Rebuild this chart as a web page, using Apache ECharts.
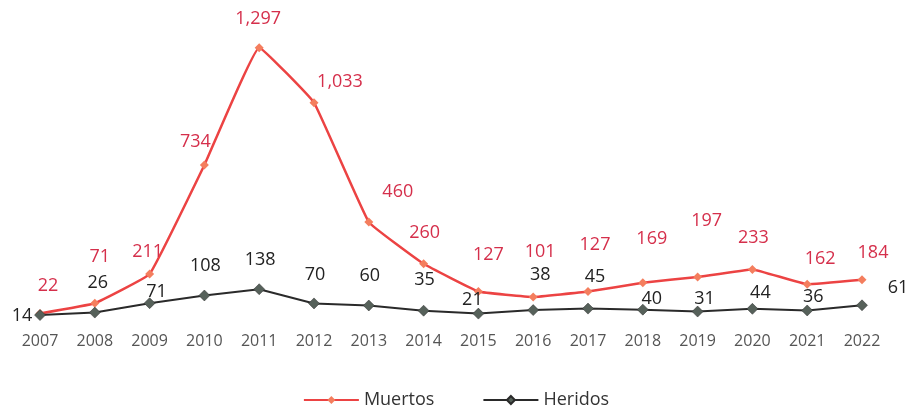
<!DOCTYPE html>
<html>
<head>
<meta charset="utf-8">
<script src="https://cdn.jsdelivr.net/npm/echarts@6/dist/echarts.min.js"></script>
<style>
html,body{margin:0;padding:0;background:#fff;}
#chart{width:912px;height:409px;}
</style>
</head>
<body>
<div id="chart"></div>
<script>
const years = ['2007','2008','2009','2010','2011','2012','2013','2014','2015','2016','2017','2018','2019','2020','2021','2022'];
const muertos = [22,71,211,734,1297,1033,460,260,127,101,127,169,197,233,162,184];
const heridos = [14,26,71,108,138,70,60,35,21,38,45,40,31,44,36,61];

// label placement (styling only)
const muertosLabelOffset = [[8,-28],[5,-46],[-2,-22],[-9,-23],[-1,-29],[26,-21],[29,-30],[1,-31],[10,-37],[7,-45],[7,-47],[9,-44],[9,-56],[1,-32],[13,-25],[11,-27]];
const heridosLabelOffset = [[-18,1],[3,-30],[7,-11],[1,-30],[1,-29],[1,-29],[1,-30],[1,-31],[-6,-14],[7,-35],[7,-32],[9,-11],[7,-13],[8,-16],[6,-14],[36,-17]];

const fmt = v => v.toLocaleString('en-US');
const FONT = '"Open Sans", "Noto Sans", sans-serif';

const chart = echarts.init(document.getElementById('chart'));
chart.setOption({
  animation: false,
  backgroundColor: '#ffffff',
  textStyle: { fontFamily: FONT },
  grid: { left: 40, right: 50, top: 47, bottom: 91, containLabel: false },
  legend: {
    top: 386,
    left: 'center',
    itemWidth: 55,
    itemHeight: 10,
    itemGap: 48,
    textStyle: { fontFamily: FONT, fontSize: 18, color: '#333' },
    data: ['Muertos', 'Heridos']
  },
  xAxis: {
    type: 'category',
    data: years,
    boundaryGap: false,
    axisLine: { show: false },
    axisTick: { show: false },
    axisLabel: { fontFamily: FONT, fontSize: 16, color: '#555', margin: 15 }
  },
  yAxis: {
    type: 'value',
    min: 0,
    max: 1300,
    show: false,
    splitLine: { show: false }
  },
  series: [
    {
      name: 'Muertos',
      type: 'line',
      smooth: 0.08,
      data: muertos.map((v, i) => ({
        value: v,
        label: { offset: muertosLabelOffset[i] }
      })),
      symbol: 'diamond',
      symbolSize: 9,
      lineStyle: { color: '#ec4343', width: 2.5 },
      itemStyle: { color: '#f47e5e' },
      label: {
        show: true,
        position: 'inside',
        formatter: p => fmt(p.value),
        color: '#d52f4b',
        fontFamily: FONT,
        fontSize: 18,
        fontWeight: 500
      },
      z: 2
    },
    {
      name: 'Heridos',
      type: 'line',
      data: heridos.map((v, i) => ({
        value: v,
        label: { offset: heridosLabelOffset[i] }
      })),
      symbol: 'diamond',
      symbolSize: 11,
      lineStyle: { color: '#2a2a2a', width: 2 },
      itemStyle: { color: '#56615a', borderColor: '#2a2a2a', borderWidth: 0.5 },
      label: {
        show: true,
        position: 'inside',
        formatter: p => fmt(p.value),
        color: '#222',
        fontFamily: FONT,
        fontSize: 18,
        fontWeight: 500
      },
      z: 3
    }
  ]
});
</script>
</body>
</html>
